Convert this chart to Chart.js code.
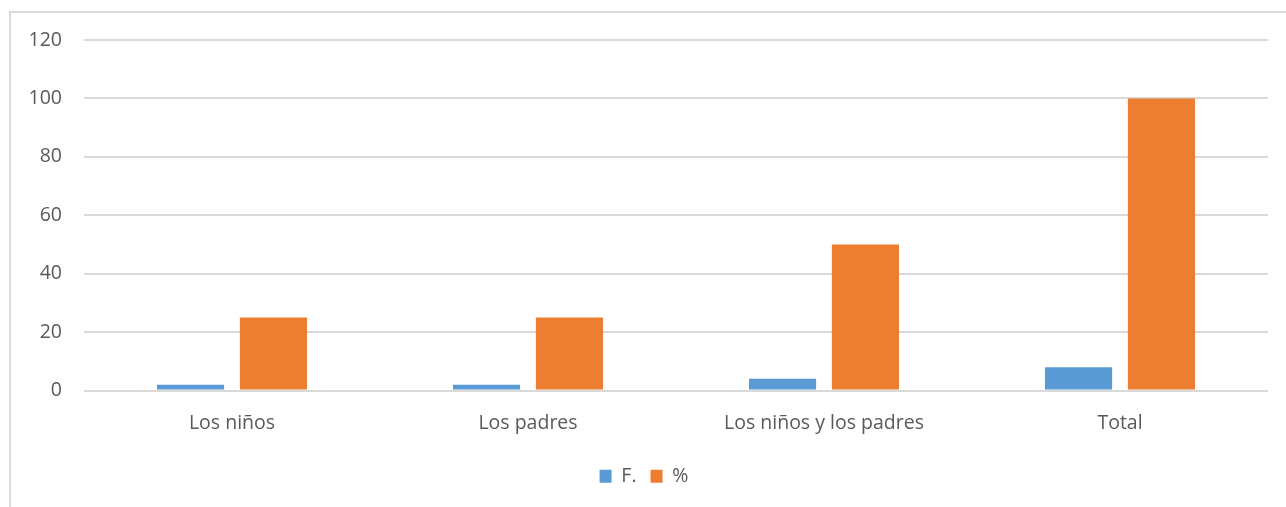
<!DOCTYPE html>
<html>
<head>
<meta charset="utf-8">
<script src="https://cdn.jsdelivr.net/npm/chart.js@4.4.0/dist/chart.umd.min.js"></script>
<style>
  body { margin: 0; background: #fff; }
  #frame { position: absolute; left: 9px; top: 11px; width: 1290px; height: 500px; border: 2px solid #d9d9d9; box-sizing: border-box; }
  #wrap { position: absolute; left: 0; top: 0; width: 1286px; height: 507px; }
</style>
</head>
<body>
<div id="frame"></div>
<div id="wrap"><canvas id="chart1"></canvas></div>
<script>
var categories = ['Los niños', 'Los padres', 'Los niños y los padres', 'Total'];
var frecuencia = [2, 2, 4, 8];
var porcentaje = [25, 25, 50, 100];
var yTicks = [0, 20, 40, 60, 80, 100, 120];

var font = "'Open Sans', 'Liberation Sans', sans-serif";

var ctx = document.getElementById('chart1').getContext('2d');
var myChart = new Chart(ctx, {
    type: 'bar',
    data: {
        labels: categories,
        datasets: [{
            label: 'F.',
            data: frecuencia,
            backgroundColor: '#5b9bd5',
            categoryPercentage: 0.56,
            barPercentage: 0.81
        }, {
            label: '%',
            data: porcentaje,
            backgroundColor: '#ed7d31',
            categoryPercentage: 0.56,
            barPercentage: 0.81
        }]
    },
    options: {
        responsive: true,
        maintainAspectRatio: false,
        animation: false,
        layout: {
            padding: { top: 40, right: 18, left: 20, bottom: 11 }
        },
        scales: {
            x: {
                grid: { display: false, drawTicks: false },
                border: { display: false },
                ticks: { color: '#595959', font: { family: font, size: 19.5 }, padding: 21 },
                afterFit: function(scale) { scale.height = 62; }
            },
            y: {
                min: 0,
                max: 120,
                afterBuildTicks: function(scale) {
                    scale.ticks = yTicks.map(function(v) { return { value: v }; });
                },
                grid: { color: '#d9d9d9', lineWidth: 2, drawTicks: false },
                border: { display: false },
                ticks: { color: '#595959', font: { family: font, size: 19.5 }, padding: 22 },
                afterFit: function(scale) { scale.width = 64; }
            }
        },
        plugins: {
            tooltip: { enabled: false },
            legend: {
                position: 'bottom',
                labels: {
                    color: '#595959',
                    font: { family: font, size: 19.5 },
                    boxWidth: 12,
                    boxHeight: 13,
                    padding: 14
                }
            }
        }
    }
});
</script>
</body>
</html>
